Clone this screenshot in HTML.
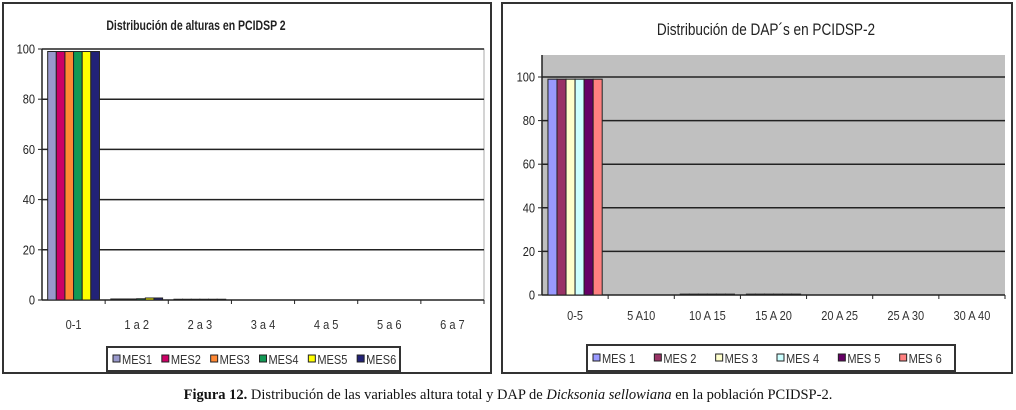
<!DOCTYPE html>
<html><head><meta charset="utf-8">
<style>
body{margin:0;width:1016px;height:410px;background:#fff;overflow:hidden;font-family:"Liberation Sans",sans-serif}
svg{position:absolute;left:0;top:0}
.cap{position:absolute;left:0;width:1016px;top:387px;text-align:center;font-family:"Liberation Serif",serif;font-size:14.5px;color:#111}
</style></head><body>
<svg id="chart" width="1016" height="385"></svg>
<div class="cap"><b>Figura 12.</b> Distribución de las variables altura total y DAP de <i>Dicksonia sellowiana</i> en la población PCIDSP-2.</div>
<script>
const catsA=["0-1","1 a 2","2 a 3","3 a 4","4 a 5","5 a 6","6 a 7"];
const seriesNamesA=["MES1","MES2","MES3","MES4","MES5","MES6"];
const valuesA=[[99,0.4,0.3,0,0,0,0],[99,0.4,0.3,0,0,0,0],[99,0.4,0.3,0,0,0,0],[99,0.5,0.3,0,0,0,0],[99,0.8,0.3,0,0,0,0],[99,0.8,0.3,0,0,0,0]];
const ticksA=[0,20,40,60,80,100];
const catsB=["0-5","5 A10","10 A 15","15 A 20","20 A 25","25 A 30","30 A 40"];
const seriesNamesB=["MES 1","MES 2","MES 3","MES 4","MES 5","MES 6"];
const valuesB=[[99,0,0.4,0.4,0,0,0],[99,0,0.4,0.4,0,0,0],[99,0,0.4,0.4,0,0,0],[99,0,0.4,0.4,0,0,0],[99,0,0.4,0.4,0,0,0],[99,0,0.4,0.4,0,0,0]];
const ticksB=[0,20,40,60,80,100];
const NS="http://www.w3.org/2000/svg";
const svg=document.getElementById('chart');
function el(t,a,p){const e=document.createElementNS(NS,t);for(const k in a)e.setAttribute(k,a[k]);(p||svg).appendChild(e);return e;}
function draw(o){
  const g=el('g',{});
  
  
  el('rect',{x:o.fx,y:o.fy,width:o.fw,height:o.fh,fill:'#fff',stroke:'#333','stroke-width':2},g);
  const t=el('text',{x:o.tx,y:o.ty,'text-anchor':'middle','font-size':o.tfs,'font-weight':o.tbold?'bold':'normal',fill:'#222',transform:`translate(${o.tx},0) scale(${o.tsx},1) translate(${-o.tx},0)`},g);
  t.textContent=o.title;
  
  
  const y=v=>o.y0-(v/100)*(o.y0-o.y100);
  el('rect',{x:o.px0,y:o.ptop,width:o.px1-o.px0,height:o.y0-o.ptop,fill:o.bg,stroke:o.bg=='#fff'?'#aaa':'none'},g);
  o.ticks.forEach(v=>{
    if(v>0){const gl=el('line',{x1:o.px0,x2:o.px1,y1:y(v),y2:y(v),stroke:'#222','stroke-width':1.5},g);
      }
    el('line',{x1:o.px0-4,x2:o.px0,y1:y(v),y2:y(v),stroke:'#222'},g);
    const tl=el('text',{x:o.px0-7,y:y(v)+4.5,'text-anchor':'end','font-size':13,fill:'#222',transform:`translate(${o.px0-7},0) scale(0.85,1) translate(${-(o.px0-7)},0)`},g);
    tl.textContent=v;
    
  });
  el('line',{x1:o.px0,x2:o.px0,y1:o.ptop,y2:o.y0,stroke:'#222','stroke-width':1.5},g);
  el('line',{x1:o.px0,x2:o.px1,y1:o.y0,y2:o.y0,stroke:'#222','stroke-width':1.5},g);
  const n=o.cats.length,cw=(o.px1-o.px0)/n,bw=cw*0.82/6;
  o.cats.forEach((c,i)=>{
    el('line',{x1:o.px0+cw*(i+1),x2:o.px0+cw*(i+1),y1:o.y0,y2:o.y0+4,stroke:'#222'},g);
    const cx=o.px0+cw*(i+0.5);
    const cl=el('text',{x:cx,y:o.labY,'text-anchor':'middle','font-size':13,fill:'#333',transform:`translate(${cx},0) scale(0.85,1) translate(${-cx},0)`},g);
    cl.textContent=c;
    
    o.vals.forEach((s,j)=>{
      const v=s[i];if(v<=0)return;
      const bx=o.px0+cw*i+cw*0.09+j*bw;
      const b=el('rect',{x:bx,y:y(v),width:bw,height:o.y0-y(v),fill:o.colors[j],stroke:'#222','stroke-width':1},g);
      
      
    });
  });
  const lg=el('g',{},g);
  
  el('rect',{x:o.lx,y:o.ly,width:o.lw,height:o.lh,fill:'#fff',stroke:'#333','stroke-width':2},lg);
  const step=o.lw/6;
  o.names.forEach((nm,j)=>{
    const ex=o.lx+6+j*step;
    const eg=el('g',{},lg);
    
    el('rect',{x:ex,y:o.ly+o.lh/2-4,width:7,height:7,fill:o.colors[j],stroke:'#222'},eg);
    const lt=el('text',{x:ex+9,y:o.ly+o.lh/2+5,'font-size':13,fill:'#333',transform:`translate(${ex+9},0) scale(0.85,1) translate(${-(ex+9)},0)`},eg);lt.textContent=nm;
  });
}
draw({name:'height-chart',fx:3,fy:3,fw:488,fh:370,title:'Distribución de alturas en PCIDSP 2',tx:196,ty:30,tfs:14,tbold:true,tsx:0.75,
 px0:42,px1:484,ptop:49,y0:300,y100:49,bg:'#fff',ticks:ticksA,cats:catsA,vals:valuesA,names:seriesNamesA,labY:329,
 colors:['#9999cc','#cc0066','#ff8833','#119955','#ffff00','#222277'],lx:107,ly:347,lw:293,lh:24});
draw({name:'dap-chart',fx:502,fy:3,fw:510,fh:370,title:'Distribución de DAP´s en PCIDSP-2',tx:766,ty:35,tfs:17,tbold:false,tsx:0.8,
 px0:542,px1:1005,ptop:55,y0:295,y100:77,bg:'#c0c0c0',ticks:ticksB,cats:catsB,vals:valuesB,names:seriesNamesB,labY:320,
 colors:['#9999ff','#993366','#ffffcc','#ccffff','#660066','#ff8080'],lx:587,ly:345,lw:368,lh:26});
</script>
</body></html>
